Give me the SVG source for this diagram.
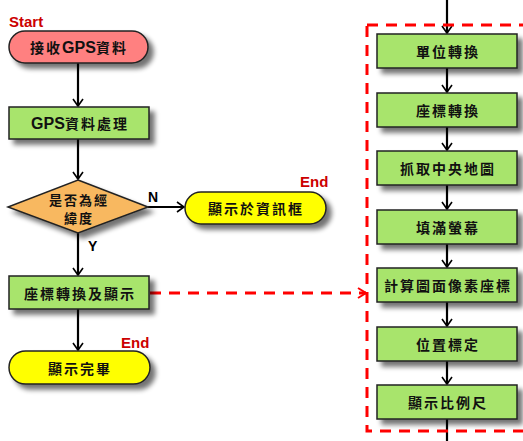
<svg xmlns="http://www.w3.org/2000/svg" width="523" height="441" viewBox="0 0 523 441">
<defs>
<filter id="sh" x="-20%" y="-30%" width="150%" height="180%">
<feGaussianBlur in="SourceAlpha" stdDeviation="2.5"/>
<feOffset dx="5" dy="5" result="b"/>
<feComponentTransfer><feFuncA type="linear" slope="0.55"/></feComponentTransfer>
<feMerge><feMergeNode/><feMergeNode in="SourceGraphic"/></feMerge>
</filter>
<marker id="ah" markerWidth="12" markerHeight="12" refX="10" refY="6" orient="auto" markerUnits="userSpaceOnUse">
<path d="M3,1 L10,6 L3,11" fill="none" stroke="#000" stroke-width="1.6"/>
</marker>
<marker id="rah" markerWidth="14" markerHeight="14" refX="11" refY="7" orient="auto" markerUnits="userSpaceOnUse">
<path d="M3,2 L11,7 L3,12" fill="none" stroke="#f00" stroke-width="2"/>
</marker>
</defs>
<style>
.box{fill:#a8e46c;stroke:#222;stroke-width:1.5;filter:url(#sh)}
.t{font-family:"Noto Sans CJK TC","Liberation Sans",sans-serif;font-size:14px;font-weight:bold;letter-spacing:2px;fill:#111;text-anchor:middle;dominant-baseline:central}
.s{font-size:13px}
.lat{font-family:"Liberation Sans",Arial,sans-serif;font-size:16px;font-weight:bold;letter-spacing:0}
.lbl{font-family:"Liberation Sans",Arial,sans-serif;font-size:15px;font-weight:bold;fill:#c00}
.yn{font-family:"Liberation Sans",Arial,sans-serif;font-size:14px;font-weight:bold;fill:#000}
.c{stroke:#000;stroke-width:2.2;fill:none;marker-end:url(#ah)}
.rd{stroke:#f00;stroke-width:3;fill:none;stroke-dasharray:11 8}
</style>
<g id="connectors">
<line class="c" x1="78" y1="63" x2="78" y2="106"/>
<line class="c" x1="78" y1="139" x2="78" y2="179"/>
<line class="c" x1="148" y1="207" x2="184" y2="207"/>
<line class="c" x1="78" y1="233" x2="78" y2="275"/>
<line class="c" x1="78" y1="309" x2="78" y2="350"/>
<line class="rd" x1="150" y1="293" x2="366" y2="293" style="marker-end:url(#rah)"/>
<line class="c" x1="447" y1="0" x2="447" y2="33"/>
<line class="c" x1="447" y1="68" x2="447" y2="92"/>
<line class="c" x1="447" y1="127" x2="447" y2="150"/>
<line class="c" x1="447" y1="185" x2="447" y2="209"/>
<line class="c" x1="447" y1="244" x2="447" y2="267"/>
<line class="c" x1="447" y1="302" x2="447" y2="326"/>
<line class="c" x1="447" y1="361" x2="447" y2="384"/>
<line x1="447" y1="419" x2="447" y2="441" stroke="#000" stroke-width="2.2"/>
<text class="yn" x="148" y="202">N</text>
<text class="yn" x="88" y="251">Y</text>
</g>
<g id="group-frame">
<rect class="rd" x="367" y="25" width="170" height="406"/>
</g>
<g id="start">
<text class="lbl" x="9" y="27">Start</text>
<rect x="9" y="31" width="139" height="32" rx="16" fill="#ff8080" stroke="#222" stroke-width="1.5" filter="url(#sh)"/>
<text class="t" x="79" y="47">接收<tspan class="lat">GPS</tspan>資料</text>
</g>
<g id="gps">
<rect class="box" x="9" y="107" width="140" height="32"/>
<text class="t" x="80" y="123"><tspan class="lat">GPS</tspan>資料處理</text>
</g>
<g id="decision">
<polygon points="78,180 148,207 78,233 8,207" fill="#f8b860" stroke="#222" stroke-width="1.5" filter="url(#sh)"/>
<text class="t s" x="79" y="199">是否為經</text>
<text class="t s" x="79" y="217">緯度</text>
</g>
<g id="end-info">
<text class="lbl" x="300" y="187">End</text>
<rect x="185" y="192" width="141" height="32" rx="16" fill="#ffff00" stroke="#222" stroke-width="1.5" filter="url(#sh)"/>
<text class="t" x="256" y="208">顯示於資訊框</text>
</g>
<g id="convert-display">
<rect class="box" x="9" y="276" width="140" height="33"/>
<text class="t" x="80" y="293">座標轉換及顯示</text>
</g>
<g id="end-done">
<text class="lbl" x="121" y="348">End</text>
<rect x="9" y="351" width="141" height="33" rx="16.5" fill="#ffff00" stroke="#222" stroke-width="1.5" filter="url(#sh)"/>
<text class="t" x="80" y="368">顯示完畢</text>
</g>
<g id="step1"><rect class="box" x="377" y="34" width="140" height="34"/><text class="t" x="448" y="51">單位轉換</text></g>
<g id="step2"><rect class="box" x="377" y="93" width="140" height="34"/><text class="t" x="448" y="110">座標轉換</text></g>
<g id="step3"><rect class="box" x="377" y="151" width="140" height="34"/><text class="t" x="448" y="168">抓取中央地圖</text></g>
<g id="step4"><rect class="box" x="377" y="210" width="140" height="34"/><text class="t" x="448" y="227">填滿螢幕</text></g>
<g id="step5"><rect class="box" x="377" y="268" width="140" height="34"/><text class="t" x="448" y="285">計算圖面像素座標</text></g>
<g id="step6"><rect class="box" x="377" y="327" width="140" height="34"/><text class="t" x="448" y="344">位置標定</text></g>
<g id="step7"><rect class="box" x="377" y="385" width="140" height="34"/><text class="t" x="448" y="402">顯示比例尺</text></g>
</svg>
